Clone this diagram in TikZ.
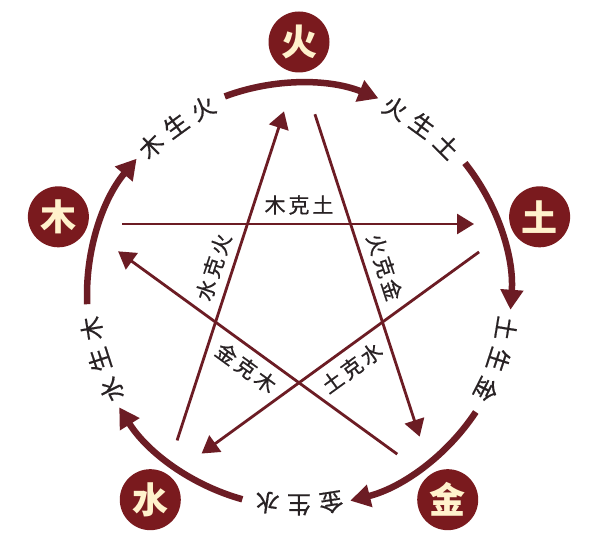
\documentclass[tikz,border=0pt]{standalone}
\usepackage{fontspec}
\newfontfamily\cjk{Noto Sans CJK SC}
\newfontfamily\cjklab[FakeBold=0.6]{Noto Sans CJK SC}
\usetikzlibrary{arrows.meta,calc}
\definecolor{wxline}{RGB}{108,28,36}
\definecolor{circfill}{RGB}{122,26,30}
\definecolor{cream}{RGB}{255,242,204}
\definecolor{labelgray}{RGB}{40,34,36}
\tikzset{
  elem/.style={circle, fill=circfill, minimum size=61pt, inner sep=0pt, text=cream,
    font=\cjk\bfseries\fontsize{36}{36}\selectfont},
  shengarc/.style={draw=wxline, line width=6.5pt, -{Triangle[length=20pt,width=22pt]}},
  kearrow/.style={draw=wxline, line width=2.8pt, -{Triangle[length=17pt,width=20pt]}},
  archar/.style={font=\cjklab\fontsize{24}{24}\selectfont, text=labelgray, inner sep=0pt},
  kelabel/.style={font=\cjklab\fontsize{21}{21}\selectfont\addfontfeature{LetterSpace=14}, text=labelgray, inner sep=0pt}
}
\begin{document}
\begin{tikzpicture}[x=1pt,y=1pt]
\fill[white] (0,0) rectangle (589,543);
\useasboundingbox (0,0) rectangle (589,543);
\coordinate (C) at (299,248);

% ke (controlling) lines of the star
\foreach \n/\nn/\a/\b/\txt/\rot in {1/90/177/175/木克土/0, 2/306/171/172/土克水/36, 3/162/176/170/水克火/72, 4/18/167/172/火克金/-72, 5/234/173/172/金克木/-36}{
  \pgfmathsetmacro\dout{\nn-90}
  \pgfmathsetmacro\din{\nn+90}
  \coordinate (foot\n) at ($(C)+(\nn:71)$);
  \coordinate (kes\n) at ($(foot\n)+(\din:\a)$);
  \coordinate (ket\n) at ($(foot\n)+(\dout:\b)$);
  \draw[kearrow] (kes\n) -- (ket\n);
  \node[kelabel, rotate=\rot] (kelab\n) at ($(C)+(\nn:90)$) {\txt};
}

% sheng (generating) arcs and their labels
\foreach \t/\p/\q/\n in {162/木/火/1, 90/火/土/2, 18/土/金/3, -54/金/水/4, -126/水/木/5}{
  \pgfmathsetmacro\sa{\t+20.5}
  \pgfmathsetmacro\ea{\t-22}
  \pgfmathsetmacro\ma{\t-36}
  \pgfmathsetmacro\mA{\ma+8.8}
  \pgfmathsetmacro\mC{\ma-8.8}
  \pgfmathsetmacro\rA{\mA-90}
  \pgfmathsetmacro\rB{\ma-90}
  \pgfmathsetmacro\rC{\mC-90}
  \coordinate (arcstart\n) at ($(C)+(\sa:212)$);
  \draw[shengarc] (arcstart\n) arc[start angle=\sa, end angle=\ea, radius=212];
  \node[archar, rotate=\rA] (sheng\n a) at ($(C)+(\mA:210)$) {\p};
  \node[archar, rotate=\rB] (sheng\n b) at ($(C)+(\ma:210)$) {生};
  \node[archar, rotate=\rC] (sheng\n c) at ($(C)+(\mC:210)$) {\q};
}

% the five elements
\node[elem] (mu)   at ($(C)+(162:253)$) {木};
\node[elem] (huo)  at ($(C)+(90:253)$)  {火};
\node[elem] (tu)   at ($(C)+(18:253)$)  {土};
\node[elem] (jin)  at ($(C)+(-54:253)$) {金};
\node[elem] (shui) at ($(C)+(234:253)$) {水};
\end{tikzpicture}
\end{document}
